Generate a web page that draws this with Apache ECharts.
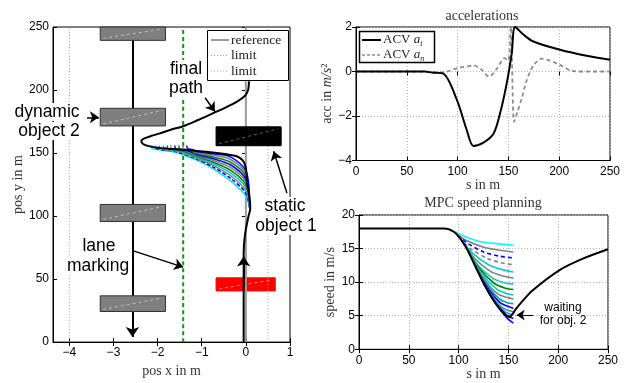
<!DOCTYPE html>
<html>
<head>
<meta charset="utf-8">
<script src="https://cdn.jsdelivr.net/npm/echarts@6/dist/echarts.min.js"></script>
<style>
html, body { margin: 0; padding: 0; background: #fff; }
#chart { width: 636px; height: 383px; }
</style>
</head>
<body>
<div id="chart"></div>
<script>
// ---- left panel: scene (positions in m) ----
const xTicksLeft = [-4, -3, -2, -1, 0, 1];
const laneX = -1.42;
const limitX = [-4, 0.5];
const refX = 0;
const dynPathX = -2.57;
// boxes: [x1, x2, y1, y2]
const dynBoxes = [[-3.3, -1.82, 239.4, 250], [-3.3, -1.82, 171.5, 185.5], [-3.3, -1.82, 95.7, 109.2], [-3.3, -1.82, 24.3, 36.7]];
const staticBox = [[-0.675, 0.8, 155.8, 170.8]];
const egoBox = [[-0.675, 0.666, 40.6, 51]];

const finalPathX = [-0.05, -0.05, -0.05, -0.02, 0.06, 0.1, 0.08, 0.04, 0.02, 0.0, -0.05, -0.13, -0.25, -0.43, -0.7, -1.04, -1.4, -1.76, -2.0, -2.2, -2.33, -2.37, -2.3, -2.15, -1.95, -1.7, -1.42, -1.1, -0.74, -0.45, -0.2, -0.02, 0.05, 0.07];
const finalPathY = [0, 45, 70, 85, 100, 106, 116, 123, 131, 138, 143, 146, 147.8, 149, 150.3, 151.5, 152.5, 153.5, 154.3, 155.5, 157.2, 159.5, 161.6, 163.5, 165.6, 168.5, 171.3, 176, 181.7, 186.3, 190.8, 195.5, 200, 207];

// planned paths (bottom to top)
const pathFan = [
  [[0.08, 106], [0, 116], [-0.35, 128], [-0.75, 137.7], [-1.1, 144.2], [-1.61, 150.7], [-2.12, 153.5], [-2.14, 156]],
  [[0.08, 106.9], [0, 118.2], [-0.35, 130.1], [-0.75, 139], [-1.1, 145], [-1.57, 151], [-2.03, 153.5], [-2.05, 156]],
  [[0.08, 107.8], [0, 120.4], [-0.35, 132.2], [-0.75, 140.3], [-1.1, 145.7], [-1.52, 151.2], [-1.94, 153.5], [-1.96, 156]],
  [[0.08, 108.7], [0, 122.7], [-0.35, 134.3], [-0.75, 141.6], [-1.1, 146.5], [-1.48, 151.4], [-1.85, 153.5], [-1.87, 156]],
  [[0.08, 109.6], [0, 124.9], [-0.35, 136.4], [-0.75, 142.9], [-1.1, 147.2], [-1.43, 151.6], [-1.76, 153.5], [-1.78, 156]],
  [[0.08, 110.4], [0, 127.1], [-0.35, 138.6], [-0.75, 144.3], [-1.1, 148], [-1.39, 151.9], [-1.68, 153.5], [-1.7, 156]],
  [[0.08, 111.3], [0, 129.3], [-0.35, 140.7], [-0.75, 145.6], [-1.1, 148.7], [-1.35, 152.1], [-1.59, 153.5], [-1.61, 156]],
  [[0.08, 112.2], [0, 131.6], [-0.35, 142.8], [-0.75, 146.9], [-1.1, 149.5], [-1.3, 152.3], [-1.5, 153.5], [-1.52, 156]],
  [[0.08, 113.1], [0, 133.8], [-0.35, 144.9], [-0.75, 148.2], [-1.1, 150.2], [-1.26, 152.5], [-1.41, 153.5], [-1.43, 156]],
  [[0.08, 114], [0, 136], [-0.35, 147], [-0.75, 149.5], [-1.1, 151], [-1.21, 152.8], [-1.32, 153.5], [-1.34, 156]]
];
const pathFanColors = ['#00e0e0', '#0000ff', '#808080', '#00c8c8', '#008000', '#808080', '#0000ff', '#008000', '#808080', '#0000ff'];
const pathFanDashed = [false, true, false, false, false, false, false, false, false, false];

// annotation arrows, left panel: [from, to]
const leftArrows = [
  [[-0.925, 193.9], [-0.7, 183]],
  [[-3.6, 178.3], [-3.33, 178.3]],
  [[0.93, 118.2], [0.63, 151.4]],
  [[-2.55, 72.4], [-1.42, 59.5]]
];

// ---- top right: accelerations ----
const atS = [0, 68, 75, 86, 99.3, 109, 115.6, 125.4, 135.3, 141.8, 148.4, 153.3, 156.6, 165, 174.6, 200.8, 227, 250];
const atV = [0, 0, -0.05, -0.1, -1.28, -2.63, -3.35, -3.2, -2.8, -1.88, -0.52, 0.83, 2.0, 1.65, 1.35, 0.98, 0.71, 0.53];
const anS = [0, 68, 75, 82, 90, 100, 116, 123, 131, 139, 146, 150, 152.4, 155.6, 159, 163.2, 167, 171.4, 176, 182.8, 190, 200.8, 212, 220, 250];
const anV = [0, 0, -0.05, -0.05, 0, 0.15, 0.26, 0.1, -0.23, 0.15, 0.6, 0.5, 2.0, -2.26, -1.8, -1.2, -0.55, 0, 0.35, 0.58, 0.5, 0.3, 0.03, 0, 0];

// ---- bottom right: speed planning ----
const speedS = [0, 60, 85, 90, 97, 107, 117, 127, 137, 147, 151, 154.4, 157, 163, 174.5, 201.4, 224.8, 250];
const speedV = [18, 18, 18, 17.9, 17.3, 15.3, 12.3, 9.3, 6.9, 5.1, 4.85, 5.3, 5.9, 7.0, 8.8, 11.8, 13.5, 14.9];
const speedFan = [
  [[95, 17.6], [105, 16.9], [120, 16.1], [140, 15.7], [155, 15.5]],
  [[97, 17.3], [108, 16.2], [125, 15.2], [140, 14.8], [155, 14.5]],
  [[99, 17.0], [110, 15.7], [125, 14.5], [140, 13.9], [155, 13.6]],
  [[101, 16.6], [112, 15.0], [128, 13.6], [142, 12.9], [155, 12.6]],
  [[103, 16.2], [115, 14.2], [130, 12.6], [143, 11.9], [155, 11.5]],
  [[105, 15.8], [117, 13.4], [132, 11.6], [145, 10.9], [155, 10.6]],
  [[107, 15.3], [119, 12.6], [134, 10.6], [146, 9.9], [155, 9.7]],
  [[109, 14.8], [121, 12.0], [136, 9.8], [147, 9.1], [155, 8.9]],
  [[111, 14.3], [123, 11.3], [138, 9.0], [148, 8.3], [155, 8.1]],
  [[113, 13.7], [125, 10.6], [139, 8.3], [149, 7.7], [155, 7.5]],
  [[115, 13.0], [127, 9.9], [141, 7.5], [150, 6.9], [155, 6.8]],
  [[117, 12.3], [129, 9.2], [142, 6.9], [151, 6.3], [155, 6.1]],
  [[119, 11.7], [131, 8.5], [144, 6.2], [155, 5.6]],
  [[121, 11.1], [133, 7.9], [146, 5.7], [155, 5.1]],
  [[123, 10.5], [135, 7.3], [148, 5.1], [155, 4.6]],
  [[125, 9.9], [137, 6.8], [149, 4.6], [155, 3.9]]
];
const speedFanColors = ['#00ffff', '#808080', '#0000ff', '#808080', '#00cccc', '#808080', '#00cccc', '#008000', '#00cccc', '#808080', '#00a8a8', '#0000ff', '#808080', '#00bfbf', '#0000ff', '#0000ff'];
const speedFanDashed = [false, false, true, true, false, false, false, false, false, false, false, false, false, false, false, false];
const waitArrow = [[[175, 5.1], [158.3, 5.1]]];

const SANS = '"Liberation Sans", Arial, sans-serif';
const SERIF = '"Liberation Serif", "Times New Roman", serif';

function pairs(xs, ys) { return xs.map((x, i) => [x, ys[i]]); }
function minus(v) { return v < 0 ? '\u2212' + (-v) : String(v); }

function bottomX(grid, min, max, name, extra) {
  return Object.assign({
    gridIndex: grid, type: 'value', min: min, max: max, position: 'bottom',
    axisLine: { show: true, onZero: false, lineStyle: { color: '#000', width: 1 } },
    axisTick: { inside: true, length: 4, lineStyle: { color: '#000' } },
    axisLabel: { color: '#000', fontSize: 12, fontFamily: SANS, margin: 5, formatter: minus },
    splitLine: { show: false },
    name: name, nameLocation: 'middle', nameGap: 18,
    nameTextStyle: { fontFamily: SERIF, fontSize: 14, color: '#333' }
  }, extra || {});
}
function topX(grid, min, max, extra) {
  return Object.assign({
    gridIndex: grid, type: 'value', min: min, max: max, position: 'top',
    axisLine: { show: false }, axisTick: { inside: true, length: 4, lineStyle: { color: '#000' } },
    axisLabel: { show: false }, splitLine: { show: false }
  }, extra || {});
}
function leftY(grid, min, max, interval, name, gap, extra) {
  return Object.assign({
    gridIndex: grid, type: 'value', min: min, max: max, interval: interval, position: 'left',
    axisLine: { show: true, onZero: false, lineStyle: { color: '#000', width: 1 } },
    axisTick: { inside: true, length: 4, lineStyle: { color: '#000' } },
    axisLabel: { color: '#000', fontSize: 12, fontFamily: SANS, margin: 4, formatter: minus },
    splitLine: { show: false },
    name: name, nameLocation: 'middle', nameGap: gap, nameRotate: 90,
    nameTextStyle: { fontFamily: SERIF, fontSize: 14, color: '#333' }
  }, extra || {});
}
function rightY(grid, min, max, interval) {
  return {
    gridIndex: grid, type: 'value', min: min, max: max, interval: interval, position: 'right',
    axisLine: { show: false }, axisTick: { inside: true, length: 4, lineStyle: { color: '#000' } },
    axisLabel: { show: false }, splitLine: { show: false }
  };
}
const dotted = { show: true, lineStyle: { color: '#b5b5b5', type: [1, 2], width: 1 } };

// axis index: 0 = left panel, 2 = accelerations, 4 = speed
function lineSeries(ai, data, color, width, type, z) {
  return {
    type: 'line', xAxisIndex: ai, yAxisIndex: ai, data: data, showSymbol: false, symbol: 'none',
    smooth: 0.3, lineStyle: { color: color, width: width, type: type || 'solid' }, z: z || 3, silent: true
  };
}
function boxSeries(boxes, fill, stroke, diag, z) {
  return {
    type: 'custom', xAxisIndex: 0, yAxisIndex: 0, data: boxes, z: z, silent: true,
    renderItem: function (params, api) {
      const p1 = api.coord([api.value(0), api.value(3)]);
      const p2 = api.coord([api.value(1), api.value(2)]);
      return {
        type: 'group', children: [
          { type: 'rect', shape: { x: p1[0], y: p1[1], width: p2[0] - p1[0], height: p2[1] - p1[1] }, style: { fill: fill, stroke: stroke, lineWidth: 1 } },
          { type: 'line', shape: { x1: p1[0] + 3, y1: p2[1] - 2, x2: p2[0] - 3, y2: p1[1] + 2 }, style: { stroke: diag, lineWidth: 0.7, lineDash: [3, 3] } }
        ]
      };
    }
  };
}
function arrowSeries(ai, list, width, size, z) {
  return {
    type: 'lines', coordinateSystem: 'cartesian2d', xAxisIndex: ai, yAxisIndex: ai, z: z || 6, silent: true,
    symbol: ['none', 'arrow'], symbolSize: size,
    lineStyle: { color: '#000', width: width, opacity: 1, curveness: 0 },
    data: list.map(c => ({ coords: c }))
  };
}

const series = [];
// left panel
series.push(boxSeries(egoBox, '#ff0000', '#ff0000', '#ffb0b0', 1));
series.push(lineSeries(0, [[limitX[0], 0], [limitX[0], 250]], '#a0a0a0', 1, [1, 2], 2));
series.push(lineSeries(0, [[limitX[1], 0], [limitX[1], 250]], '#a0a0a0', 1, [1, 2], 2));
series.push(lineSeries(0, [[refX, 0], [refX, 250]], '#9a9a9a', 2, 'solid', 2));
series.push(lineSeries(0, [[laneX, 0], [laneX, 250]], '#00a000', 2, [4, 3], 2));
series.push(arrowSeries(0, [[[dynPathX, 250], [dynPathX, 4]]], 2, [0, 10], 2));
pathFan.forEach((p, i) => series.push(lineSeries(0, p, pathFanColors[i], 1.5, pathFanDashed[i] ? [4, 2] : 'solid', 3)));
series.push(lineSeries(0, pairs(finalPathX, finalPathY), '#000', 2, 'solid', 4));
series.push(arrowSeries(0, [[[-0.05, 45], [-0.05, 68]]], 2, [0, 10], 5));
series.push(boxSeries(dynBoxes, '#7f7f7f', '#333', '#d8d8d8', 5));
series.push(boxSeries(staticBox, '#000', '#000', '#888', 5));
series.push(arrowSeries(0, leftArrows, 1.5, [0, 9], 7));
// top right
series.push(lineSeries(2, pairs(anS, anV), '#8c8c8c', 1.8, [4, 3], 3));
series.push(lineSeries(2, pairs(atS, atV), '#000', 2, 'solid', 4));
// bottom right
speedFan.forEach((p, i) => series.push(lineSeries(4, p, speedFanColors[i], 1.6, speedFanDashed[i] ? [4, 3] : 'solid', 3)));
series.push(lineSeries(4, pairs(speedS, speedV), '#000', 2, 'solid', 4));
series.push(arrowSeries(4, waitArrow, 1, [0, 8], 6));

function txt(x, y, s, size, extra) {
  return {
    type: 'text', z: 100, style: Object.assign({
      text: s, x: x, y: y, font: size + 'px ' + SANS, fill: '#000',
      align: 'center', verticalAlign: 'middle', textAlign: 'center', textVerticalAlign: 'middle',
      backgroundColor: '#fff'
    }, extra || {})
  };
}

const graphic = [
  // titles
  txt(482, 16, 'accelerations', 14, { font: '14px ' + SERIF, fill: '#333', backgroundColor: null }),
  txt(483, 203, 'MPC speed planning', 14, { font: '14px ' + SERIF, fill: '#333', backgroundColor: null }),
  // left annotations
  txt(186, 69, 'final', 17.5), txt(186, 88, 'path', 17.5),
  txt(47, 112, 'dynamic', 17.5), txt(49, 131, 'object 2', 17.5),
  txt(285, 206, 'static', 17.5), txt(286, 226, 'object 1', 17.5),
  txt(99, 246, 'lane', 17.5), txt(98, 266, 'marking', 17.5),
  txt(563, 308, 'waiting', 12, { backgroundColor: null }), txt(563, 321, 'for obj. 2', 12, { backgroundColor: null }),
  // left legend
  { type: 'rect', z: 90, shape: { x: 207.5, y: 30.5, width: 81, height: 50 }, style: { fill: '#fff', stroke: '#000', lineWidth: 1 } },
  { type: 'line', z: 91, shape: { x1: 211, y1: 40, x2: 229, y2: 40 }, style: { stroke: '#9a9a9a', lineWidth: 2 } },
  { type: 'line', z: 91, shape: { x1: 211, y1: 55.5, x2: 229, y2: 55.5 }, style: { stroke: '#a0a0a0', lineWidth: 1, lineDash: [1, 2] } },
  { type: 'line', z: 91, shape: { x1: 211, y1: 71, x2: 229, y2: 71 }, style: { stroke: '#a0a0a0', lineWidth: 1, lineDash: [1, 2] } },
  txt(231, 40, 'reference', 13.5, { font: '13.5px ' + SERIF, align: 'left', textAlign: 'left', backgroundColor: null, fill: '#222' }),
  txt(231, 55.5, 'limit', 13.5, { font: '13.5px ' + SERIF, align: 'left', textAlign: 'left', backgroundColor: null, fill: '#222' }),
  txt(231, 71, 'limit', 13.5, { font: '13.5px ' + SERIF, align: 'left', textAlign: 'left', backgroundColor: null, fill: '#222' }),
  // top-right legend
  { type: 'rect', z: 90, shape: { x: 359.5, y: 31.5, width: 75, height: 31 }, style: { fill: '#fff', stroke: '#000', lineWidth: 1.5 } },
  { type: 'line', z: 91, shape: { x1: 362, y1: 40, x2: 381, y2: 40 }, style: { stroke: '#000', lineWidth: 2 } },
  { type: 'line', z: 91, shape: { x1: 362, y1: 55, x2: 381, y2: 55 }, style: { stroke: '#8c8c8c', lineWidth: 1.5, lineDash: [3, 2] } },
  {
    type: 'text', z: 92, style: {
      text: '{n|ACV }{i|a}{s|t}', x: 383, y: 40, align: 'left', verticalAlign: 'middle', textAlign: 'left', textVerticalAlign: 'middle',
      rich: { n: { font: '13px ' + SERIF, fill: '#222', lineHeight: 16 }, i: { font: 'italic 13px ' + SERIF, fill: '#222', lineHeight: 16 }, s: { font: 'italic 8px ' + SERIF, fill: '#222', verticalAlign: 'bottom', lineHeight: 16 } }
    }
  },
  {
    type: 'text', z: 92, style: {
      text: '{n|ACV }{i|a}{s|n}', x: 383, y: 55, align: 'left', verticalAlign: 'middle', textAlign: 'left', textVerticalAlign: 'middle',
      rich: { n: { font: '13px ' + SERIF, fill: '#222', lineHeight: 16 }, i: { font: 'italic 13px ' + SERIF, fill: '#222', lineHeight: 16 }, s: { font: 'italic 8px ' + SERIF, fill: '#222', verticalAlign: 'bottom', lineHeight: 16 } }
    }
  }
];

const option = {
  animation: false,
  backgroundColor: '#fff',
  grid: [
    { left: 53, top: 27, width: 237, height: 322, show: true, borderColor: '#000', borderWidth: 1 },
    { left: 356, top: 27, width: 254, height: 133.5, show: true, borderColor: '#000', borderWidth: 1 },
    { left: 359, top: 215, width: 249, height: 134.3, show: true, borderColor: '#000', borderWidth: 1 }
  ],
  xAxis: [
    bottomX(0, -4.37, 1, 'pos x in m', { axisTick: { inside: true, length: 4, customValues: xTicksLeft, lineStyle: { color: '#000' } }, axisLabel: { customValues: xTicksLeft, color: '#000', fontSize: 12, fontFamily: SANS, margin: 5, formatter: minus } }),
    topX(0, -4.37, 1, { axisTick: { inside: true, length: 4, customValues: xTicksLeft, lineStyle: { color: '#000' } } }),
    bottomX(1, 0, 250, 's in m', { interval: 50, splitLine: dotted }),
    topX(1, 0, 250, { interval: 50 }),
    bottomX(2, 0, 250, 's in m', { interval: 50, splitLine: dotted }),
    topX(2, 0, 250, { interval: 50 })
  ],
  yAxis: [
    leftY(0, 0, 250, 50, 'pos y in m', 22),
    rightY(0, 0, 250, 50),
    leftY(1, -4, 2, 2, '{n|acc in }{i|m/s}{n|²}', 15, {
      splitLine: dotted,
      nameTextStyle: { rich: { n: { fontFamily: SERIF, fontSize: 14, color: '#333' }, i: { fontFamily: SERIF, fontStyle: 'italic', fontSize: 14, color: '#333' } } }
    }),
    rightY(1, -4, 2, 2),
    leftY(2, 0, 20, 5, 'speed in m/s', 15, { splitLine: dotted }),
    rightY(2, 0, 20, 5)
  ],
  series: series,
  graphic: graphic
};

const chart = echarts.init(document.getElementById('chart'), null, { renderer: 'canvas' });
chart.setOption(option);
</script>
</body>
</html>
